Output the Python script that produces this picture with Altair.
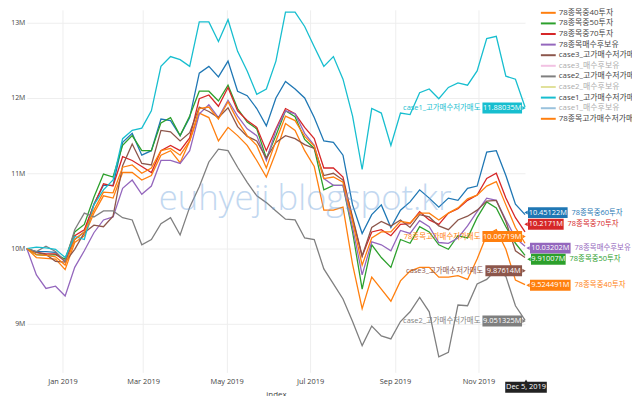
import altair as alt
import pandas as pd

# ---------------- data (values in millions, weekly samples) ----------------
dates = pd.date_range("2018-12-06", periods=53, freq="7D")

legend_names = ["78종목중40투자", "78종목중50투자", "78종목중70투자", "78종목매수후보유",
                "case3_고가매수저가매도", "case3_매수후보유", "case2_고가매수저가매도",
                "case2_매수후보유", "case1_고가매수저가매도", "case1_매수후보유",
                "78종목고가매수저가매도"]
hidden_names = ["case3_매수후보유", "case2_매수후보유", "case1_매수후보유"]

all_names = ["78종목중60투자"] + legend_names
all_colors = ["#1f77b4", "#ff7f0e", "#2ca02c", "#d62728", "#9467bd", "#8c564b",
              "#e377c2", "#7f7f7f", "#bcbd22", "#17becf", "#1f77b4", "#ff7f0e"]

s60 = [10.00, 9.96, 9.96, 9.95, 9.83, 10.12, 10.22, 10.59, 10.84, 10.84,
       11.41, 11.53, 11.24, 11.30, 11.72, 11.70, 11.50, 11.74, 12.33, 12.42,
       12.28, 12.49, 12.09, 12.03, 11.86, 11.63, 12.00, 12.22, 12.12, 12.00,
       11.74, 11.43, 11.41, 11.24, 10.58, 10.20, 10.45, 10.58, 10.28, 10.51,
       10.62, 10.78, 10.67, 10.55, 10.67, 10.64, 10.80, 10.83, 11.28, 11.30,
       10.97, 10.59, 10.45]
s40 = [10.00, 9.88, 9.87, 9.86, 9.72, 10.08, 10.17, 10.47, 10.70, 10.67,
       11.01, 11.01, 10.91, 10.97, 11.24, 11.30, 11.14, 11.43, 11.80, 11.74,
       11.43, 11.61, 11.50, 11.37, 11.17, 10.95, 11.28, 11.66, 11.57, 11.30,
       11.09, 10.51, 10.51, 10.55, 9.79, 9.20, 9.62, 9.46, 9.30, 9.57,
       9.70, 9.75, 9.75, 9.62, 9.62, 9.64, 9.59, 9.86, 10.18, 10.25,
       9.99, 9.58, 9.52]
s50 = [10.00, 9.92, 9.91, 9.92, 9.86, 10.22, 10.32, 10.68, 10.99, 10.95,
       11.37, 11.50, 11.30, 11.30, 11.67, 11.74, 11.50, 11.76, 12.09, 12.09,
       11.96, 12.17, 11.86, 11.68, 11.59, 11.20, 11.50, 11.83, 11.75, 11.45,
       11.33, 10.78, 10.84, 10.84, 10.22, 9.46, 10.05, 9.88, 9.75, 10.12,
       10.07, 10.29, 10.22, 10.05, 9.99, 10.17, 10.14, 10.41, 10.62, 10.54,
       10.29, 10.07, 9.91]
s70 = [10.00, 9.95, 9.93, 9.93, 9.83, 10.17, 10.25, 10.58, 10.86, 10.83,
       11.22, 11.17, 11.09, 11.01, 11.30, 11.37, 11.30, 11.47, 11.99, 12.04,
       11.89, 12.14, 11.83, 11.70, 11.61, 11.30, 11.59, 11.86, 11.79, 11.61,
       11.46, 11.07, 11.07, 10.95, 10.39, 9.90, 10.22, 10.25, 10.17, 10.32,
       10.33, 10.49, 10.38, 10.32, 10.47, 10.53, 10.64, 10.71, 10.93, 11.00,
       10.67, 10.41, 10.22]
s_hold = [10.00, 9.65, 9.47, 9.50, 9.37, 9.75, 9.97, 10.21, 10.38, 10.42,
          10.80, 10.91, 10.72, 10.83, 11.17, 11.17, 11.13, 11.30, 11.79, 11.91,
          11.74, 11.97, 11.76, 11.59, 11.50, 11.17, 11.57, 11.83, 11.79, 11.53,
          11.37, 10.93, 10.84, 10.84, 10.28, 9.65, 10.09, 10.05, 9.97, 10.24,
          10.20, 10.37, 10.29, 10.08, 10.07, 10.14, 10.30, 10.49, 10.67, 10.64,
          10.38, 10.14, 10.03]
c3_high = [10.00, 9.95, 9.92, 9.83, 9.82, 9.99, 10.21, 10.31, 10.29, 10.43,
           11.10, 11.39, 11.13, 11.11, 11.57, 11.55, 11.43, 11.54, 11.88, 11.82,
           11.74, 11.87, 11.62, 11.49, 11.43, 11.20, 11.41, 11.50, 11.46, 11.38,
           11.33, 10.97, 11.00, 10.91, 10.42, 9.90, 10.28, 10.36, 10.30, 10.38,
           10.28, 10.45, 10.42, 10.30, 10.25, 10.38, 10.43, 10.51, 10.63, 10.64,
           10.36, 9.97, 9.88]
c2_high = [10.00, 9.96, 10.03, 9.96, 9.83, 10.25, 10.47, 10.42, 10.50, 10.50,
           10.41, 10.38, 10.05, 10.12, 10.33, 10.41, 10.18, 10.55, 10.82, 11.15,
           11.32, 11.30, 11.08, 10.88, 10.70, 10.61, 10.50, 10.39, 10.38, 10.14,
           10.12, 9.73, 9.53, 9.33, 9.03, 8.71, 8.97, 8.84, 8.80, 9.03,
           9.16, 9.35, 9.16, 8.56, 8.62, 9.25, 9.24, 9.53, 9.59, 9.72,
           9.63, 9.24, 9.05]
c1_high = [10.00, 10.02, 10.01, 9.99, 9.88, 10.16, 10.12, 10.58, 10.78, 10.91,
           11.46, 11.57, 11.60, 11.83, 12.42, 12.55, 12.51, 12.42, 13.01, 13.01,
           12.75, 13.04, 12.62, 12.36, 12.05, 12.12, 12.49, 13.14, 13.14, 12.95,
           12.68, 12.42, 12.55, 12.25, 11.76, 11.05, 11.86, 11.80, 11.37, 11.80,
           11.78, 12.07, 12.12, 11.99, 12.14, 12.20, 12.17, 12.36, 12.79, 12.82,
           12.29, 12.25, 11.88]
s78_high = [10.00, 9.92, 9.91, 9.89, 9.78, 10.12, 10.22, 10.51, 10.75, 10.74,
            11.08, 11.11, 11.00, 11.07, 11.30, 11.33, 11.24, 11.43, 11.86, 11.88,
            11.72, 11.95, 11.70, 11.50, 11.37, 11.07, 11.43, 11.76, 11.70, 11.49,
            11.36, 10.93, 10.95, 10.88, 10.36, 9.78, 10.14, 10.22, 10.22, 10.36,
            10.34, 10.47, 10.47, 10.38, 10.47, 10.54, 10.66, 10.71, 10.83, 10.89,
            10.58, 10.28, 10.07]

draw_order = [("78종목중60투자", s60), ("78종목중40투자", s40), ("78종목중50투자", s50),
              ("78종목중70투자", s70), ("78종목매수후보유", s_hold),
              ("case3_고가매수저가매도", c3_high), ("case2_고가매수저가매도", c2_high),
              ("case1_고가매수저가매도", c1_high), ("78종목고가매수저가매도", s78_high)]

# hover-label values shown in the picture
label_names = ["78종목중60투자", "78종목중70투자", "78종목매수후보유", "78종목중50투자",
               "78종목중40투자", "case1_고가매수저가매도", "78종목고가매수저가매도",
               "case3_고가매수저가매도", "case2_고가매수저가매도"]
label_values = [10.45122, 10.2171, 10.03202, 9.91007, 9.524491,
                11.88035, 10.06719, 9.87614, 9.051325]
label_texts = ["10.45122M", "10.2171M", "10.03202M", "9.91007M", "9.524491M",
               "11.88035M", "10.06719M", "9.87614M", "9.051325M"]
hover_date = "Dec 5, 2019"

# ---------------- layout / style ----------------
FONT = "Open Sans, Noto Sans CJK KR, sans-serif"
OX, OY = 27, 8            # page position of plot origin
W, H = 530 - OX, 366


def px(x):
    return x - OX


def py(y):
    return y - OY


color_of = dict(zip(all_names, all_colors))
color_scale = alt.Scale(domain=all_names, range=all_colors)
xscale = alt.Scale(domain=[alt.DateTime(year=2018, month=12, date=6),
                           alt.DateTime(year=2019, month=12, date=5)])
yscale = alt.Scale(domain=[8.355, 13.171], nice=False, zero=False)

xaxis = alt.Axis(values=[alt.DateTime(year=2019, month=m, date=1) for m in [1, 3, 5, 7, 9, 11]],
                 format="%b %Y", title="index", labelFontSize=7.5, labelColor="#444",
                 labelFont=FONT, labelPadding=5, domain=False, ticks=False, grid=True,
                 gridColor="#eeeeee", titleFont=FONT, titleFontSize=8,
                 titleFontWeight="normal", titleColor="#444", titlePadding=6)
yaxis = alt.Axis(values=[9, 10, 11, 12, 13], labelExpr="datum.value + 'M'", title=None,
                 labelFontSize=7, labelColor="#444", labelFont=FONT, labelPadding=2,
                 domain=False, ticks=False, grid=True, gridColor="#eeeeee")

main_layers = []
for nm, vals in draw_order:
    d = pd.DataFrame({"date": dates, "value": vals, "series": nm})
    main_layers.append(
        alt.Chart(d).mark_line(strokeWidth=1.3).encode(
            x=alt.X("date:T", scale=xscale, axis=xaxis),
            y=alt.Y("value:Q", scale=yscale, axis=yaxis),
            color=alt.Color("series:N", scale=color_scale, legend=None),
        )
    )

# watermark
wm = alt.Chart(pd.DataFrame({"t": ["euhyeji.blogspot.kr"]})).mark_text(
    fontSize=35, font=FONT, color="#6fa3dc", opacity=0.42, align="center",
    baseline="alphabetic", fontWeight=300
).encode(x=alt.value(px(308)), y=alt.value(py(210)), text="t:N")
main_layers.append(wm)

# hover labels: (side, page box left, page box right, y offset px)
label_style = {
    "78종목중60투자": ("right", 533, 573, -2),
    "78종목중70투자": ("right", 533, 569, -8),
    "78종목매수후보유": ("right", 535, 576, 2),
    "78종목중50투자": ("right", 536, 571, 4),
    "78종목중40투자": ("right", 535, 576, 1),
    "case1_고가매수저가매도": ("left", 487, 527, 1),
    "78종목고가매수저가매도": ("left", 487, 527, -7),
    "case3_고가매수저가매도": ("left", 490, 527, 13),
    "case2_고가매수저가매도": ("left", 487, 527, 1),
}
for nm, v, txt in zip(label_names, label_values, label_texts):
    side, bl, br, off = label_style[nm]
    c = color_of[nm]
    d = pd.DataFrame({"v": [v], "txt": [txt], "name": [nm]})
    ybase = alt.Y("v:Q", scale=yscale, axis=yaxis)
    main_layers.append(alt.Chart(d).mark_tick(
        orient="horizontal", size=br - bl, thickness=11, color=c, opacity=1, yOffset=off
    ).encode(x=alt.value(px((bl + br) / 2)), y=ybase))
    tail_x = bl - 2 if side == "right" else br + 2
    main_layers.append(alt.Chart(d).mark_point(
        shape="triangle-left" if side == "right" else "triangle-right",
        filled=True, size=16, color=c, opacity=1, yOffset=off
    ).encode(x=alt.value(px(tail_x)), y=ybase))
    main_layers.append(alt.Chart(d).mark_text(
        color="white", fontSize=7.5, font=FONT, align="center", baseline="middle", yOffset=off
    ).encode(x=alt.value(px((bl + br) / 2)), y=ybase, text="txt:N"))
    if side == "right":
        main_layers.append(alt.Chart(d).mark_text(
            color=c, fontSize=7.5, font=FONT, align="left", baseline="middle", yOffset=off
        ).encode(x=alt.value(px(br + 4)), y=ybase, text="name:N"))
    else:
        main_layers.append(alt.Chart(d).mark_text(
            color=c, fontSize=7.5, font=FONT, align="right", baseline="middle", yOffset=off
        ).encode(x=alt.value(px(bl - 2)), y=ybase, text="name:N"))

# x hover label
dd = pd.DataFrame({"t": [hover_date]})
main_layers.append(alt.Chart(dd).mark_tick(orient="horizontal", size=42, thickness=11,
                                           color="#222", opacity=1)
                   .encode(x=alt.value(px(531)), y=alt.value(py(389))))
main_layers.append(alt.Chart(dd).mark_point(shape="triangle-up", filled=True, size=16,
                                            color="#222", opacity=1)
                   .encode(x=alt.value(px(531)), y=alt.value(py(383))))
main_layers.append(alt.Chart(dd).mark_text(color="white", fontSize=7.5, font=FONT,
                                           align="center", baseline="middle")
                   .encode(x=alt.value(px(531)), y=alt.value(py(389)), text="t:N"))

main = alt.layer(*main_layers)

# custom legend
leg = pd.DataFrame({"name": legend_names, "i": list(range(len(legend_names)))})
leg_y = alt.Y("i:Q", scale=alt.Scale(domain=[0, 10], range=[py(11), py(118)]), axis=None)
op = alt.condition(alt.FieldOneOfPredicate(field="name", oneOf=hidden_names),
                   alt.value(0.45), alt.value(1))
leg_rule = alt.Chart(leg).mark_rule(strokeWidth=2).encode(
    x=alt.value(px(546)), x2=alt.value(px(561)), y=leg_y,
    color=alt.Color("name:N", scale=color_scale, legend=None), opacity=op)
leg_text = alt.Chart(leg).mark_text(align="left", baseline="middle", fontSize=8,
                                    font=FONT, color="#444").encode(
    x=alt.value(px(564)), y=leg_y, text="name:N", opacity=op)
legend = alt.layer(leg_rule, leg_text)

chart = alt.layer(main, legend).resolve_scale(y="independent").properties(
    width=W, height=H,
    autosize=alt.AutoSizeParams(type="none"),
    padding={"left": OX - 8, "top": OY - 8, "right": 108, "bottom": 22},
    background="white",
).configure_view(strokeWidth=0)

chart.save("out.html", embed_options={"renderer": "svg", "actions": False})
